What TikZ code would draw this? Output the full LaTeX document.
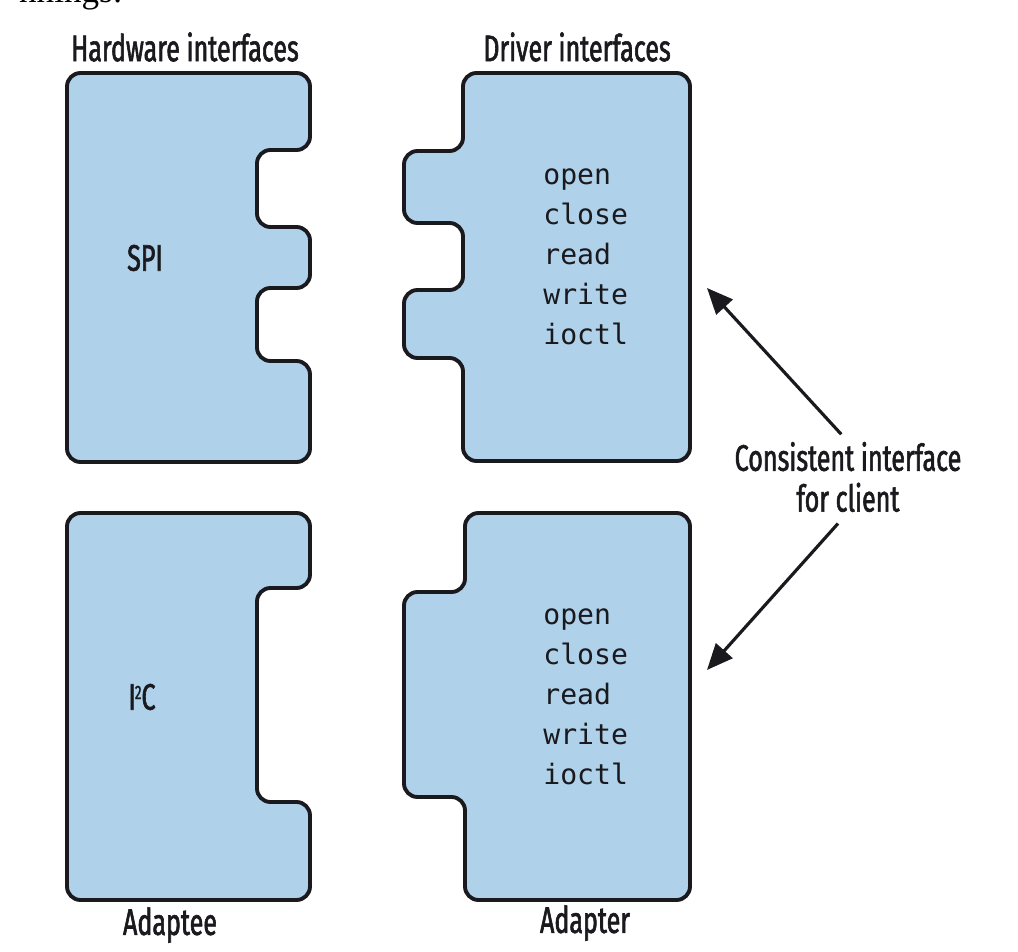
\documentclass[tikz,border=0pt]{standalone}
\usepackage{fontspec}
\setmainfont{Liberation Serif}
\newfontfamily\puzzlesans[FakeStretch=0.68,FakeBold=1.6]{Fira Sans}
\newfontfamily\puzzlemono{DejaVu Sans Mono}
\usetikzlibrary{arrows.meta}
\definecolor{piecefill}{RGB}{175,209,233}
\definecolor{ink}{RGB}{25,25,30}
\tikzset{>={Triangle[length=0.52cm,width=0.44cm]}}
\tikzset{
  piece/.style={draw=ink, fill=piecefill, line width=2.2pt,
    rounded corners=0.27cm, line join=round},
  caption/.style={inner sep=0pt, text=ink, align=center,
    font=\puzzlesans\fontsize{21}{23.2}\selectfont},
  calls/.style={inner sep=0pt, text=ink, align=left, anchor=north west,
    font=\puzzlemono\fontsize{16}{22.8}\selectfont},
  pointer/.style={->, draw=ink, line width=1.8pt}
}

\begin{document}
\begin{tikzpicture}[x=0.02cm,y=-0.02cm]
    \useasboundingbox (0,0) rectangle (1018,952);
    % bit of the running text cut off above the figure
    \node[anchor=base east, inner sep=0pt, font=\fontsize{20}{24}\selectfont] (runin) at (123,3) {nnings:};
    % hardware side (adaptee)
    \draw[piece] (67,73) -- (310,73) -- (310,150) -- (257,150) -- (257,227) -- (310,227)
        -- (310,288) -- (257,288) -- (257,361) -- (310,361) -- (310,462) -- (67,462) -- cycle;
    \draw[piece] (67,513) -- (310,513) -- (310,588) -- (257,588) -- (257,802) -- (310,802)
        -- (310,900) -- (67,900) -- cycle;
    % driver side (adapter)
    \draw[piece] (463,73) -- (690,73) -- (690,461) -- (463,461) -- (463,358) -- (404,358)
        -- (404,290) -- (463,290) -- (463,223) -- (404,223) -- (404,151) -- (463,151) -- cycle;
    \draw[piece] (465,513) -- (690,513) -- (690,900) -- (465,900) -- (465,797) -- (404,797)
        -- (404,592) -- (465,592) -- cycle;
    % texts
    \node[caption] (hwhead) at (185,47) {Hardware interfaces};
    \node[caption] (drvhead) at (577,47) {Driver interfaces};
    \node[caption] (spi) at (145,258) {SPI};
    \node[caption] (itwoc) at (142,697) {I\kern-0.5pt\raisebox{0.55ex}{\fontsize{11}{11}\selectfont 2}C};
    \node[caption] (adaptee) at (170,925) {Adaptee};
    \node[caption] (adapter) at (585,923) {Adapter};
    \node[calls] (opsspi) at (543,168) {open\\close\\read\\write\\ioctl};
    \node[calls] (opsitwoc) at (543,608) {open\\close\\read\\write\\ioctl};
    \node[caption] (client) at (848,477) {Consistent interface\\for client};
    % pointers to the two driver interfaces
    \coordinate (tipspi) at (707,288);
    \coordinate (tipitwoc) at (707,670);
    \draw[pointer, shorten <=0.2cm] (client.north) -- (tipspi);
    \draw[pointer, shorten <=0.3cm] (client.south) -- (tipitwoc);
\end{tikzpicture}
\end{document}
